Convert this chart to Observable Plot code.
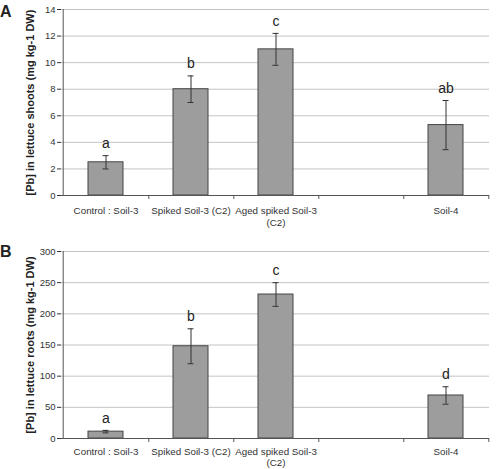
<!DOCTYPE html>
<html>
<head>
<meta charset="utf-8">
<script src="https://cdn.jsdelivr.net/npm/d3@7"></script>
<script src="https://cdn.jsdelivr.net/npm/@observablehq/plot@0.6"></script>
<style>
  body { margin: 0; background: #fff; }
  #wrap { position: relative; width: 497px; height: 469px; overflow: hidden; font-family: "Liberation Sans", Arial, sans-serif; }
  .panel-letter { position: absolute; font-weight: bold; font-size: 16px; color: #222; }
  #wrap svg { display: block; }
</style>
</head>
<body>
<div id="wrap">
  <div id="chartA"></div>
  <div id="chartB"></div>
  <div class="panel-letter" style="left:0px; top:3px;">A</div>
  <div class="panel-letter" style="left:0px; top:243px;">B</div>
</div>
<script>
// Category slots (the 4th slot is empty in the original figure)
const slots = ["Control : Soil-3", "Spiked Soil-3 (C2)", "Aged spiked Soil-3\n(C2)", "", "Soil-4"];
const barCats = ["Control : Soil-3", "Spiked Soil-3 (C2)", "Aged spiked Soil-3\n(C2)", "Soil-4"];

// Panel A: shoots
const shootMean = [2.5, 8.0, 11.0, 5.3];
const shootErr = [0.5, 1.0, 1.2, 1.85];
const shootLetters = ["a", "b", "c", "ab"];
const shootTicks = [0, 2, 4, 6, 8, 10, 12, 14];
const shootLabel = "[Pb] in lettuce shoots (mg kg-1 DW)";

// Panel B: roots
const rootMean = [11, 148, 231, 69];
const rootErr = [2, 28, 19, 14];
const rootLetters = ["a", "b", "c", "d"];
const rootTicks = [0, 50, 100, 150, 200, 250, 300];
const rootLabel = "[Pb] in lettuce roots (mg kg-1 DW)";

const W = 497, ML = 61, MR = 8;
const step = (W - ML - MR) / slots.length;

function panel({mean, err, letters, ticks, label, height, marginTop, marginBottom, labelDy, lineHeight}) {
  const data = barCats.map((c, i) => ({cat: c, v: mean[i], e: err[i], l: letters[i]}));
  const plotH = height - marginTop - marginBottom;
  return Plot.plot({
    width: W,
    height,
    marginLeft: ML,
    marginRight: MR,
    marginTop,
    marginBottom,
    style: {fontFamily: "'Liberation Sans', Arial, sans-serif", fontSize: "9.5px", color: "#333", background: "#fff"},
    x: {domain: slots, paddingInner: 0.59, paddingOuter: 0.295, axis: null},
    y: {domain: [ticks[0], ticks[ticks.length - 1]], ticks, tickSize: 4, tickPadding: 2, label: null, grid: false},
    marks: [
      Plot.ruleY(ticks.slice(1), {stroke: "#c4c4c4", strokeWidth: 1}),
      Plot.barY(data, {x: "cat", y: "v", fill: "#9d9d9d", stroke: "#454545", strokeWidth: 1}),
      Plot.ruleX(data, {x: "cat", y1: d => d.v - d.e, y2: d => d.v + d.e, stroke: "#333", strokeWidth: 1}),
      Plot.tickY(data, {x: "cat", y: d => d.v - d.e, stroke: "#333", insetLeft: 14.5, insetRight: 14.5}),
      Plot.tickY(data, {x: "cat", y: d => d.v + d.e, stroke: "#333", insetLeft: 14.5, insetRight: 14.5}),
      Plot.text(data, {x: "cat", y: d => d.v + d.e, text: "l", dy: -12, fontSize: 14, fill: "#222"}),
      // axis lines
      Plot.ruleY([ticks[0]], {stroke: "#555", strokeWidth: 1}),
      Plot.ruleX([slots[0]], {dx: -step / 2, stroke: "#555", strokeWidth: 1}),
      // category boundary tick marks below the x axis
      Plot.ruleX(slots, {x: d => d, dx: step / 2, insetTop: plotH, insetBottom: -4, stroke: "#555", strokeWidth: 1}),
      // category labels
      Plot.text(slots, {x: d => d, text: d => d, frameAnchor: "bottom", lineAnchor: "top", dy: labelDy, lineHeight, fontSize: 9.8, fill: "#333"}),
      // y axis title
      Plot.text([label], {frameAnchor: "left", rotate: -90, textAnchor: "middle", dx: -31, fontWeight: "bold", fontSize: 11, fill: "#222"})
    ]
  });
}

document.getElementById("chartA").append(panel({
  mean: shootMean, err: shootErr, letters: shootLetters, ticks: shootTicks, label: shootLabel,
  height: 230, marginTop: 9, marginBottom: 35, labelDy: 10, lineHeight: 1.25
}));
document.getElementById("chartB").append(panel({
  mean: rootMean, err: rootErr, letters: rootLetters, ticks: rootTicks, label: rootLabel,
  height: 239, marginTop: 21, marginBottom: 31, labelDy: 9, lineHeight: 1.1
}));
</script>
</body>
</html>
